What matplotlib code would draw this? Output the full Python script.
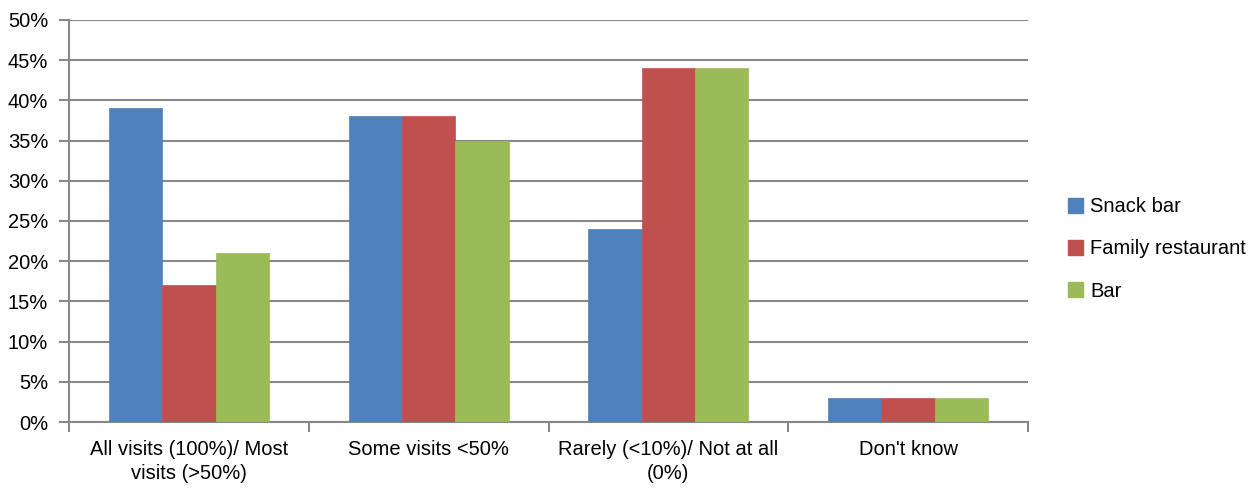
import matplotlib
matplotlib.use("Agg")
import matplotlib.pyplot as plt
import numpy as np
from matplotlib.patches import Patch

categories = ["All visits (100%)/ Most\nvisits (>50%)", "Some visits <50%",
              "Rarely (<10%)/ Not at all\n(0%)", "Don't know"]
series_names = ["Snack bar", "Family restaurant", "Bar"]
snack_bar = [39, 38, 24, 3]
family_restaurant = [17, 38, 44, 3]
bar = [21, 35, 44, 3]
colors = ["#4F81BD", "#C0504D", "#9BBB59"]
y_ticks = list(range(0, 51, 5))

plt.rcParams['font.family'] = ['Liberation Sans', 'DejaVu Sans']
fig = plt.figure(figsize=(12.57, 4.92), dpi=100)
ax = fig.add_axes([69/1257, 1 - 422/492, (1028 - 69)/1257, (422 - 20)/492])

x = np.arange(len(categories))
w = 1 / 4.5
grid_c = "#888888"
for i, (vals, c) in enumerate(zip([snack_bar, family_restaurant, bar], colors)):
    ax.bar(x + (i - 1) * w, vals, width=w, color=c, edgecolor=c, linewidth=0.5, zorder=3,
           label=series_names[i])

ax.set_xlim(-0.5, len(categories) - 0.5)
ax.set_ylim(0, 50)
ax.set_yticks(y_ticks)
ax.set_yticklabels([f"{t}%" for t in y_ticks], fontsize=14.5)
ax.yaxis.grid(True, color=grid_c, linewidth=1.5, zorder=0)
ax.set_axisbelow(True)

ax.set_xticks(x)
ax.set_xticklabels(categories, fontsize=14.5, linespacing=1.3)
ax.tick_params(axis='x', length=0, pad=13)
ax.set_xticks(np.arange(-0.5, len(categories) + 0.5, 1), minor=True)
ax.tick_params(axis='x', which='minor', length=7, width=1.5, color=grid_c)
ax.tick_params(axis='y', length=7, width=1.5, color=grid_c, pad=8)

for s in ['top', 'right']:
    ax.spines[s].set_visible(False)
for s in ['left', 'bottom']:
    ax.spines[s].set_color(grid_c)
    ax.spines[s].set_linewidth(1.5)

handles = [Patch(facecolor=c, edgecolor=c) for c in colors]
fig.legend(handles, series_names, loc='center left', bbox_to_anchor=(1050/1257, 1 - 249/492),
           frameon=False, fontsize=14.5, handlelength=0.75, handleheight=0.75,
           handletextpad=0.35, labelspacing=1.15)

fig.savefig("out.png", dpi=100)
